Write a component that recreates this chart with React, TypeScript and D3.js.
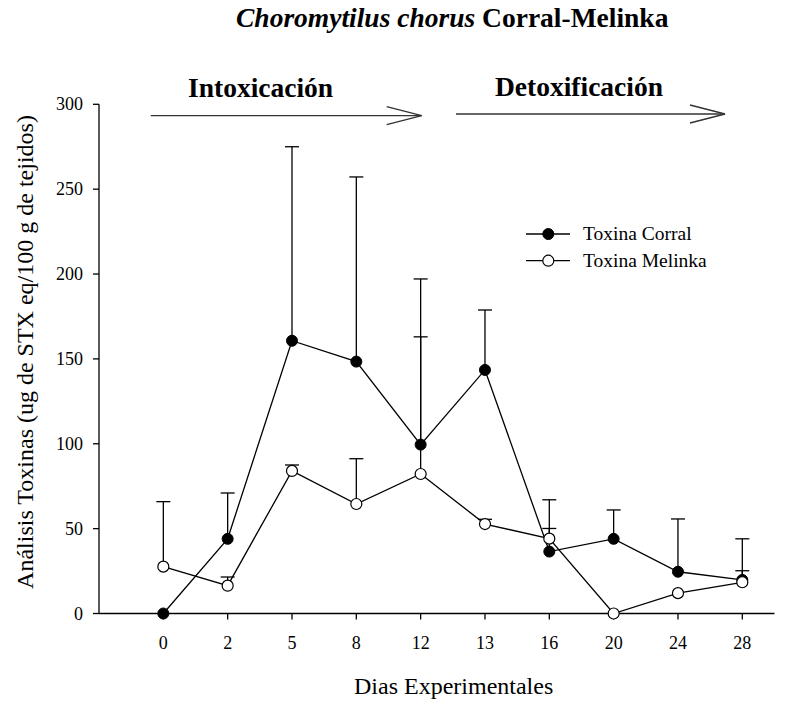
import React from "react";
import * as d3 from "d3";

// Sampling days (categorical positions on the x axis)
const days = ["0", "2", "5", "8", "12", "13", "16", "20", "24", "28"];

// Mean toxin content, ug STX eq / 100 g tissue
const corralMean = [0, 44, 160.7, 148.4, 99.5, 143.5, 36.5, 44, 24.6, 19.8];
const corralSD = [0, 27, 114.3, 108.8, 97.6, 35.3, 30.5, 17, 31.1, 24.2];

const melinkaMean = [27.6, 16.4, 84, 64.5, 82.2, 52.7, 44.1, 0, 12, 18.4];
const melinkaSD = [38.3, 5.1, 3.5, 26.7, 80.8, 2.8, 6, 0, 0, 6.8];

const yTicks = [0, 50, 100, 150, 200, 250, 300];

const W = 796;
const H = 702;
const FONT = "Liberation Serif, serif";

export default function App() {
  const x = d3.scaleLinear().domain([-1, 9]).range([99, 742.3]);
  const y = d3.scaleLinear().domain([0, 300]).range([613.5, 104.3]);
  const line = d3
    .line<number>()
    .x((_, i) => x(i))
    .y((d) => y(d));

  const r = 5.5;
  const cap = 7;

  const errorBars = (mean: number[], sd: number[], key: string) =>
    mean.map((m, i) =>
      sd[i] > 0 ? (
        <g key={`${key}-${i}`} stroke="#000" strokeWidth={1.3}>
          <line x1={x(i)} x2={x(i)} y1={y(m)} y2={y(m + sd[i])} />
          <line x1={x(i) - cap} x2={x(i) + cap} y1={y(m + sd[i])} y2={y(m + sd[i])} />
        </g>
      ) : null
    );

  const arrow = (x1: number, x2: number, yy: number) => (
    <g stroke="#333" strokeWidth={1.3} fill="none">
      <line x1={x1} x2={x2} y1={yy} y2={yy} />
      <polyline points={`${x2 - 35},${yy - 9} ${x2},${yy} ${x2 - 35},${yy + 9}`} />
    </g>
  );

  return (
    <svg
      width={W}
      height={H}
      style={{ position: "absolute", left: 0, top: 0, background: "#fff", fontFamily: FONT }}
    >
      {/* Title */}
      <text x={236} y={27} fontSize={27.5} fill="#000">
        <tspan fontStyle="italic" fontWeight="bold">Choromytilus chorus</tspan>
        <tspan fontWeight="bold"> Corral-Melinka</tspan>
      </text>

      {/* Phase annotations */}
      <text x={188} y={97} fontSize={27.5} fontWeight="bold">Intoxicación</text>
      {arrow(150.7, 421.7, 115.7)}
      <text x={495} y={96} fontSize={27.5} fontWeight="bold">Detoxificación</text>
      {arrow(456, 725, 114)}

      {/* Y axis */}
      <g stroke="#000" strokeWidth={1.3}>
        <line x1={99} x2={99} y1={y(0)} y2={y(300)} />
        {yTicks.map((t) => (
          <line key={t} x1={93} x2={99} y1={y(t)} y2={y(t)} />
        ))}
      </g>
      {yTicks.map((t) => (
        <text key={t} x={83} y={y(t)} dy="0.34em" fontSize={18} textAnchor="end">
          {t}
        </text>
      ))}

      {/* X axis */}
      <g stroke="#000" strokeWidth={1.3}>
        <line x1={99} x2={x(9.5)} y1={y(0)} y2={y(0)} />
        {days.map((_, i) => (
          <line key={i} x1={x(i)} x2={x(i)} y1={y(0)} y2={y(0) + 6} />
        ))}
      </g>
      {days.map((d, i) => (
        <text key={d} x={x(i)} y={649} fontSize={18} textAnchor="middle">
          {d}
        </text>
      ))}

      {/* Axis titles */}
      <text x={354} y={694} fontSize={24}>Dias Experimentales</text>
      <text
        transform={`translate(33, ${352}) rotate(-90)`}
        fontSize={24}
        textAnchor="middle"
      >
        Análisis Toxinas (ug de STX eq/100 g de tejidos)
      </text>

      {/* Corral series */}
      {errorBars(corralMean, corralSD, "c")}
      <path d={line(corralMean) ?? ""} fill="none" stroke="#000" strokeWidth={1.3} />
      {corralMean.map((m, i) => (
        <circle key={`cm-${i}`} cx={x(i)} cy={y(m)} r={r} fill="#000" stroke="#000" />
      ))}

      {/* Melinka series */}
      {errorBars(melinkaMean, melinkaSD, "m")}
      <path d={line(melinkaMean) ?? ""} fill="none" stroke="#000" strokeWidth={1.3} />
      {melinkaMean.map((m, i) => (
        <circle key={`mm-${i}`} cx={x(i)} cy={y(m)} r={r} fill="#fff" stroke="#000" strokeWidth={1.2} />
      ))}

      {/* Legend */}
      <g stroke="#000" strokeWidth={1.3}>
        <line x1={526} x2={570} y1={234} y2={234} />
        <line x1={526} x2={570} y1={260.7} y2={260.7} />
      </g>
      <circle cx={548.3} cy={234} r={r} fill="#000" stroke="#000" />
      <circle cx={548.3} cy={260.7} r={r} fill="#fff" stroke="#000" strokeWidth={1.2} />
      <text x={583} y={240} fontSize={19.5}>Toxina Corral</text>
      <text x={583} y={267} fontSize={19.5}>Toxina Melinka</text>
    </svg>
  );
}
